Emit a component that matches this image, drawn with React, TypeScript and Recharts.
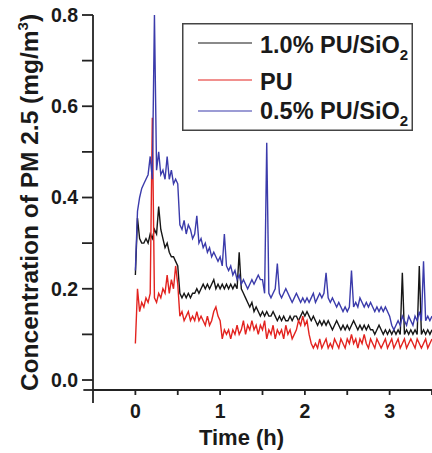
import React from 'react';
import { LineChart, Line, XAxis, YAxis, Legend, Label, ReferenceLine } from 'recharts';

// Sampling grid step (hours) of the recorded traces
const STEP = 0.025;

// 1.0% PU/SiO2 (black)
const black = [
  0.23, 0.355, 0.31, 0.30, 0.30, 0.31, 0.30, 0.32, 0.31, 0.33,
  0.32, 0.38, 0.33, 0.31, 0.29, 0.30, 0.28, 0.27, 0.27, 0.26,
  0.25, 0.19, 0.18, 0.19, 0.18, 0.19, 0.18, 0.19, 0.19, 0.20,
  0.19, 0.20, 0.21, 0.20, 0.21, 0.20, 0.21, 0.22, 0.20, 0.21,
  0.20, 0.21, 0.20, 0.21, 0.20, 0.21, 0.20, 0.21, 0.20, 0.28,
  0.20, 0.19, 0.18, 0.17, 0.16, 0.17, 0.15, 0.16, 0.15, 0.14,
  0.15, 0.14, 0.15, 0.14, 0.14, 0.15, 0.14, 0.13, 0.14, 0.13,
  0.14, 0.13, 0.13, 0.14, 0.13, 0.14, 0.14, 0.13, 0.14, 0.15,
  0.14, 0.15, 0.14, 0.13, 0.14, 0.13, 0.12, 0.13, 0.12, 0.13,
  0.12, 0.13, 0.12, 0.11, 0.12, 0.13, 0.12, 0.11, 0.12, 0.11,
  0.12, 0.11, 0.12, 0.13, 0.12, 0.11, 0.12, 0.11, 0.12, 0.11,
  0.12, 0.11, 0.11, 0.10, 0.11, 0.12, 0.11, 0.10, 0.11, 0.10,
  0.11, 0.10, 0.11, 0.10, 0.11, 0.10, 0.235, 0.10, 0.11, 0.10,
  0.11, 0.10, 0.11, 0.10, 0.25, 0.10, 0.11, 0.10, 0.11, 0.10, 0.11,
];

// PU (red)
const red = [
  0.08, 0.20, 0.15, 0.17, 0.16, 0.18, 0.17, 0.19, 0.575, 0.18,
  0.17, 0.19, 0.18, 0.20, 0.19, 0.23, 0.19, 0.22, 0.20, 0.25,
  0.21, 0.14, 0.15, 0.13, 0.14, 0.15, 0.13, 0.14, 0.13, 0.15,
  0.13, 0.14, 0.13, 0.12, 0.14, 0.12, 0.13, 0.15, 0.16, 0.14,
  0.13, 0.09, 0.11, 0.10, 0.11, 0.09, 0.11, 0.10, 0.12, 0.10,
  0.11, 0.13, 0.10, 0.12, 0.11, 0.13, 0.11, 0.12, 0.10, 0.12,
  0.11, 0.13, 0.09, 0.11, 0.10, 0.12, 0.09, 0.11, 0.10, 0.11,
  0.09, 0.12, 0.10, 0.11, 0.09, 0.10, 0.11, 0.13, 0.12, 0.14,
  0.12, 0.13, 0.10, 0.08, 0.07, 0.08, 0.07, 0.09, 0.07, 0.08,
  0.09, 0.07, 0.08, 0.07, 0.09, 0.08, 0.07, 0.09, 0.08, 0.07,
  0.09, 0.08, 0.10, 0.08, 0.09, 0.07, 0.09, 0.08, 0.10, 0.08,
  0.07, 0.09, 0.08, 0.07, 0.09, 0.08, 0.07, 0.08, 0.09, 0.07,
  0.08, 0.09, 0.07, 0.08, 0.09, 0.07, 0.08, 0.09, 0.07, 0.08,
  0.09, 0.08, 0.07, 0.09, 0.08, 0.07, 0.08, 0.09, 0.07, 0.08, 0.09,
];

// 0.5% PU/SiO2 (blue)
const blue = [
  0.24, 0.37, 0.40, 0.42, 0.43, 0.44, 0.45, 0.49, 0.44, 0.80,
  0.46, 0.50, 0.45, 0.46, 0.44, 0.49, 0.44, 0.46, 0.43, 0.44,
  0.43, 0.34, 0.33, 0.35, 0.32, 0.34, 0.33, 0.31, 0.32, 0.36,
  0.30, 0.31, 0.29, 0.30, 0.28, 0.29, 0.27, 0.28, 0.27, 0.26,
  0.27, 0.25, 0.32, 0.25, 0.24, 0.25, 0.23, 0.24, 0.22, 0.23,
  0.21, 0.22, 0.21, 0.20, 0.21, 0.22, 0.21, 0.22, 0.23, 0.22,
  0.22, 0.19, 0.52, 0.19, 0.18, 0.19, 0.20, 0.255, 0.19, 0.18,
  0.19, 0.20, 0.19, 0.18, 0.17, 0.18, 0.19, 0.18, 0.17, 0.18,
  0.17, 0.18, 0.17, 0.18, 0.19, 0.17, 0.18, 0.19, 0.18, 0.19,
  0.235, 0.18, 0.17, 0.18, 0.17, 0.16, 0.17, 0.16, 0.15, 0.16,
  0.15, 0.16, 0.24, 0.16, 0.17, 0.16, 0.18, 0.17, 0.16, 0.17,
  0.16, 0.17, 0.16, 0.15, 0.16, 0.15, 0.16, 0.15, 0.16, 0.15,
  0.14, 0.12, 0.11, 0.12, 0.13, 0.12, 0.14, 0.13, 0.12, 0.14,
  0.13, 0.12, 0.14, 0.13, 0.15, 0.13, 0.26, 0.13, 0.14, 0.13, 0.14,
];

const xTicks = [0, 0.5, 1, 1.5, 2, 2.5, 3, 3.5];
const yTicks = [0, 0.1, 0.2, 0.3, 0.4, 0.5, 0.6, 0.7, 0.8];

const SERIES = [
  { key: 'black', name: '1.0% PU/SiO2', color: '#161616' },
  { key: 'red', name: 'PU', color: '#e3231f' },
  { key: 'blue', name: '0.5% PU/SiO2', color: '#3b3bab' },
];

const data = black.map((_, i) => ({
  t: +(i * STEP).toFixed(4),
  black: black[i],
  red: red[i],
  blue: blue[i],
}));

const FONT = '"Liberation Sans", Arial, sans-serif';
const AXIS = '#222';

const renderName = (name: string) => {
  if (name.endsWith('SiO2')) {
    return (
      <>
        {name.slice(0, -1)}
        <tspan dy={7} fontSize={15}>2</tspan>
      </>
    );
  }
  return name;
};

const LegendBox = (props: any) => {
  const payload = props.payload || [];
  const rows = [20, 57, 88];
  const base = [30, 67, 96];
  const ordered = SERIES.map((s) => {
    const p = payload.find((e: any) => e.value === s.name || e.dataKey === s.key);
    return { value: s.name, color: p ? p.color : s.color };
  });
  return (
    <svg width={231} height={108} style={{ display: 'block' }}>
      <rect x={0.75} y={0.75} width={229.5} height={106.5} fill="#fff" stroke="#444" strokeWidth={1.5} />
      {ordered.map((p: any, i: number) => (
        <g key={p.value}>
          <line x1={16} x2={70} y1={rows[i]} y2={rows[i]} stroke={p.color} strokeWidth={1.2} />
          <text x={78} y={base[i]} fontFamily={FONT} fontWeight="bold" fontSize={23.5} fill="#1a1a1a">
            {renderName(p.value)}
          </text>
        </g>
      ))}
    </svg>
  );
};

const YTitle = (props: any) => {
  const vb = props.viewBox || { x: 0, y: 15, width: 93, height: 375 };
  const cx = vb.x + 38;
  const cy = vb.y + vb.height / 2;
  return (
    <text
      x={cx}
      y={cy}
      transform={`rotate(-90, ${cx}, ${cy})`}
      textAnchor="middle"
      fontFamily={FONT}
      fontWeight="bold"
      fontSize={24.5}
      fill="#1a1a1a"
    >
      Concentration of PM 2.5 (mg/m<tspan dy={-10} fontSize={15}>3</tspan>
      <tspan dy={10}>)</tspan>
    </text>
  );
};

export default function App() {
  return (
    <div style={{ position: 'absolute', left: 0, top: 0, width: 432, height: 453, background: '#fff' }}>
      <LineChart width={432} height={453} data={data} margin={{ top: 15, right: 0, left: 0, bottom: 0 }}>
        <XAxis
          type="number"
          dataKey="t"
          domain={[-0.5, 3.5]}
          ticks={xTicks}
          allowDataOverflow
          height={63}
          tickSize={5}
          tickMargin={9}
          interval={0}
          tickFormatter={(v: number) => (Number.isInteger(v) ? String(v) : '')}
          axisLine={{ stroke: AXIS, strokeWidth: 1.8 }}
          tickLine={{ stroke: AXIS, strokeWidth: 1.8 }}
          tick={{ fill: '#1a1a1a', fontFamily: FONT, fontWeight: 'bold', fontSize: 19.5 }}
        >
          <Label
            value="Time (h)"
            position="insideBottom"
            offset={8}
            dx={-21}
            style={{ fill: '#1a1a1a', fontFamily: FONT, fontWeight: 'bold', fontSize: 22 }}
          />
        </XAxis>
        <YAxis
          type="number"
          domain={[-0.0219, 0.8]}
          ticks={yTicks}
          allowDataOverflow
          width={93}
          tickSize={11}
          tickMargin={4}
          interval={0}
          tickFormatter={(v: number) => (Math.round(v * 10) % 2 === 0 ? v.toFixed(1) : '')}
          axisLine={{ stroke: AXIS, strokeWidth: 1.8 }}
          tickLine={{ stroke: AXIS, strokeWidth: 1.8 }}
          tick={{ fill: '#1a1a1a', fontFamily: FONT, fontWeight: 'bold', fontSize: 19.5 }}
          label={<YTitle />}
        />
        <ReferenceLine
          segment={[{ x: -0.614, y: -0.0219 }, { x: -0.5, y: -0.0219 }]}
          ifOverflow="visible"
          stroke={AXIS}
          strokeWidth={1.8}
        />
        <ReferenceLine
          segment={[{ x: -0.5, y: -0.0219 }, { x: -0.5, y: -0.0504 }]}
          ifOverflow="visible"
          stroke={AXIS}
          strokeWidth={1.8}
        />
        {SERIES.map((s) => (
          <Line
            key={s.key}
            type="linear"
            dataKey={s.key}
            name={s.name}
            stroke={s.color}
            strokeWidth={1.4}
            dot={false}
            activeDot={false}
            isAnimationActive={false}
          />
        ))}
        <Legend
          layout="horizontal"
          verticalAlign="middle"
          align="center"
          content={<LegendBox />}
          wrapperStyle={{ position: 'absolute', left: 182, top: 23, width: 231, height: 108, margin: 0, padding: 0 }}
        />
      </LineChart>
    </div>
  );
}
